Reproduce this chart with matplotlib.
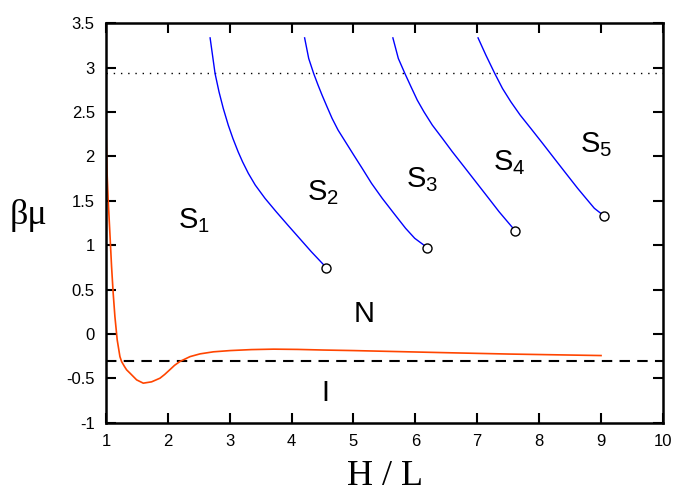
import matplotlib
matplotlib.use('Agg')
import matplotlib.pyplot as plt

# branch curves S1..S5
s1_x = [2.684, 2.764, 2.828, 2.897, 2.977, 3.052, 3.137, 3.208, 3.302, 3.413,
        3.571, 3.752, 3.938, 4.128, 4.318, 4.563]
s1_y = [3.335, 2.934, 2.727, 2.540, 2.353, 2.203, 2.052, 1.940, 1.809, 1.678,
        1.528, 1.377, 1.228, 1.078, 0.928, 0.747]
s2_x = [4.211, 4.277, 4.357, 4.428, 4.493, 4.573, 4.655, 4.752, 4.870, 5.005,
        5.141, 5.292, 5.465, 5.653, 5.842, 5.990, 6.193]
s2_y = [3.335, 3.103, 2.934, 2.803, 2.690, 2.559, 2.428, 2.296, 2.165, 2.015,
        1.866, 1.697, 1.528, 1.359, 1.191, 1.078, 0.973]
s3_x = [5.637, 5.725, 5.831, 5.930, 6.031, 6.139, 6.274, 6.437, 6.598, 6.787,
        6.976, 7.165, 7.353, 7.489, 7.612]
s3_y = [3.335, 3.103, 2.934, 2.784, 2.634, 2.502, 2.353, 2.203, 2.052, 1.884,
        1.715, 1.546, 1.377, 1.265, 1.164]
s4_x = [7.013, 7.140, 7.283, 7.408, 7.543, 7.694, 7.866, 8.056, 8.244, 8.433,
        8.622, 8.757, 8.892, 9.044]
s4_y = [3.335, 3.140, 2.934, 2.765, 2.615, 2.465, 2.315, 2.147, 1.978, 1.809,
        1.641, 1.528, 1.416, 1.333]
branches = [(s1_x, s1_y), (s2_x, s2_y), (s3_x, s3_y), (s4_x, s4_y)]

# orange curve
n_x = [1.0, 1.011, 1.02, 1.037, 1.065, 1.092, 1.118, 1.146, 1.183, 1.227, 1.254,
       1.30, 1.335, 1.389, 1.497, 1.604, 1.739, 1.874, 1.95, 2.036, 2.11, 2.198,
       2.36, 2.522, 2.738, 3.008, 3.35, 3.71, 4.1, 4.52, 5.0, 5.437, 6.5, 7.5, 9.0]
n_y = [2.35, 2.07, 1.80, 1.509, 1.134, 0.759, 0.46, 0.196, -0.066, -0.254, -0.31,
       -0.365, -0.403, -0.44, -0.516, -0.553, -0.538, -0.497, -0.455, -0.400,
       -0.352, -0.308, -0.254, -0.223, -0.200, -0.186, -0.175, -0.17, -0.173, -0.18,
       -0.186, -0.193, -0.21, -0.225, -0.242]

dotted_level = 2.935
dashed_level = -0.305

labels = ['$\\mathregular{S_1}$', '$\\mathregular{S_2}$', '$\\mathregular{S_3}$',
          '$\\mathregular{S_4}$', '$\\mathregular{S_5}$', 'N', 'I']
label_x = [2.425, 4.50, 6.11, 7.515, 8.92, 5.18, 4.547]
label_y = [1.28, 1.59, 1.734, 1.925, 2.131, 0.227, -0.662]

plt.rcParams['font.family'] = 'Liberation Sans'
plt.rcParams['mathtext.fontset'] = 'custom'
plt.rcParams['mathtext.rm'] = 'Liberation Sans'

fig = plt.figure(figsize=(6.92, 4.94), dpi=100)
ax = fig.add_axes([0.153, 0.144, 0.805, 0.809])

ax.axhline(dotted_level, color='black', lw=1.0, linestyle=(0, (1, 4.2)))
ax.axhline(dashed_level, color='black', lw=1.5, dashes=(5, 3.5))

for bx, by in branches:
    ax.plot(bx, by, color='#0000ff', lw=1.0)
    ax.plot(bx[-1], by[-1], 'o', ms=6.5, mfc='white', mec='black', mew=1.0, zorder=5)

ax.plot(n_x, n_y, color='#ff4500', lw=1.2)

for t, lx, ly in zip(labels, label_x, label_y):
    ax.text(lx, ly, t, fontsize=21, ha='center', va='center')

ax.set_xlim(1, 10)
ax.set_ylim(-1, 3.5)
ax.set_xticks(range(1, 11))
ax.set_yticks([-1, -0.5, 0, 0.5, 1, 1.5, 2, 2.5, 3, 3.5])
ax.set_yticklabels(['-1', '-0.5', '0', '0.5', '1', '1.5', '2', '2.5', '3', '3.5'])
ax.tick_params(direction='in', length=7, width=1.5, top=True, right=True,
               labelsize=12, pad=8)
for sp in ax.spines.values():
    sp.set_linewidth(1.8)

fig.text(385 / 692, 1 - 476 / 494, 'H / L', fontsize=26, family='Liberation Serif',
         ha='center', va='center')
fig.text(28 / 692, 1 - 215 / 494, 'βμ', fontsize=26, family='Liberation Serif',
         ha='center', va='center')

fig.savefig('out.png', dpi=100)
